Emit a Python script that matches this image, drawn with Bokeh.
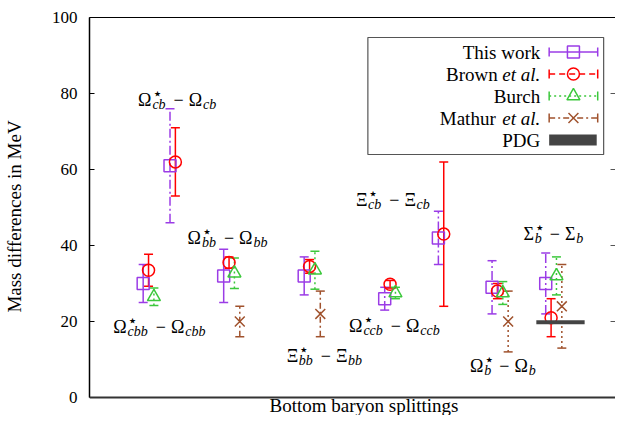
from bokeh.plotting import figure
from bokeh.models import (Range1d, FixedTicker, LinearAxis, Whisker, TeeHead,
                          ColumnDataSource, Label, Span)
from bokeh.embed import file_html
from bokeh.resources import INLINE

FONT = "Times New Roman, Liberation Serif, serif"

# ---------------- data ----------------
splittings = [("Ω", "cbb"), ("Ω", "cb"), ("Ω", "bb"), ("Ξ", "bb"),
              ("Ω", "ccb"), ("Ξ", "cb"), ("Ω", "b"), ("Σ", "b")]
group_x = [2, 3, 5, 8, 11, 13, 15, 17]

this_val = [30, 61, 32, 32, 26, 42, 29, 30]
this_err = [5, 15, 7, 5, 3, 7, 7, 8]

brown_val = [33.5, 62, 35.5, 34.5, 29.8, 43, 28, 21]
brown_err = [4.2, 9, 1.5, 1.8, 1.0, 19, 2, 5]

burch_idx = [0, 2, 3, 4, 6, 7]
burch_val = [26.5, 32.7, 33.5, 27.5, 27.5, 32]
burch_err = [2.3, 4, 5, 1.5, 3, 5]

mathur_idx = [2, 3, 6, 7]
mathur_val = [20, 22, 20, 24]
mathur_err = [4, 6, 8, 11]

pdg_idx = 7
pdg_val = 19.8

y_ticks = [0, 20, 40, 60, 80, 100]

x_title = "Bottom baryon splittings"
y_title = "Mass differences in MeV"

# ---------------- styles ----------------
C_THIS = "#9b3ce6"
C_BROWN = "#ff0000"
C_BURCH = "#3cc83c"
C_MATHUR = "#a0522d"
C_PDG = "#444444"

PXU = 27.09   # px per x unit
PYU = 3.8     # px per y unit
X0, X1 = 0.0, 19.6
Y_AX0, Y1 = 0.0, 100.0
Y0 = -(415 - 397) / PYU   # room under the axis for the title

LX, LY = 4, 5   # label nudges (px)

p = figure(width=615, height=415, output_backend="svg", toolbar_location=None,
           x_range=Range1d(X0, X1), y_range=Range1d(Y0, Y1),
           x_axis_location=None,
           min_border_left=84, min_border_right=0, min_border_top=17,
           min_border_bottom=0)
p.outline_line_color = None
p.grid.visible = False

ya = p.yaxis[0]
ya.ticker = FixedTicker(ticks=y_ticks)
ya.bounds = (Y_AX0, Y1)
ya.major_tick_in = 5
ya.major_tick_out = 0
ya.minor_tick_line_color = None
ya.minor_tick_in = 0
ya.minor_tick_out = 0
ya.major_label_text_font = FONT
ya.major_label_text_font_size = "17px"
ya.major_label_text_color = "black"
ya.major_label_standoff = 12
ya.axis_label = y_title
ya.axis_label_text_font = FONT
ya.axis_label_text_font_size = "19px"
ya.axis_label_text_font_style = "normal"
ya.axis_label_text_color = "black"
ya.axis_label_standoff = 24
ya.axis_line_width = 1.5
ya.axis_line_color = "black"
ya.major_tick_line_color = "black"

ta = LinearAxis(ticker=FixedTicker(ticks=[]), axis_line_color="black", axis_line_width=1.2,
                major_tick_in=0, major_tick_out=0, minor_tick_in=0, minor_tick_out=0,
                major_label_standoff=0)
p.add_layout(ta, "above")

p.add_layout(Span(location=Y_AX0, dimension="width", line_color="#333333", line_width=2))

p.segment(x0=[X1] * len(y_ticks), x1=[X1 - 5 / PXU] * len(y_ticks),
          y0=y_ticks, y1=y_ticks, line_color="#555555", line_width=1)


def errorbars(xs, lo, hi, color, dash, dim="height", cap=9, level="underlay"):
    src = ColumnDataSource(dict(b=xs, lo=lo, hi=hi))
    w = Whisker(source=src, base="b", lower="lo", upper="hi", dimension=dim,
                line_color=color, line_width=1.5, line_dash=dash, level=level,
                upper_head=TeeHead(size=cap, line_color=color, line_width=1.5),
                lower_head=TeeHead(size=cap, line_color=color, line_width=1.5))
    p.add_layout(w)


def series(idx, vals, errs, dx, color, dash, marker, size, alt_idx=(), alt_dash="solid"):
    xs = [group_x[i] + dx for i in idx]
    lo = [v - e for v, e in zip(vals, errs)]
    hi = [v + e for v, e in zip(vals, errs)]
    a = [k for k in range(len(xs)) if idx[k] not in alt_idx]
    b = [k for k in range(len(xs)) if idx[k] in alt_idx]
    if a:
        errorbars([xs[k] for k in a], [lo[k] for k in a], [hi[k] for k in a], color, dash)
    if b:
        errorbars([xs[k] for k in b], [lo[k] for k in b], [hi[k] for k in b], color, alt_dash)
    p.scatter(xs, vals, marker=marker, size=size, fill_color=None,
              line_color=color, line_width=1.5)


all_idx = list(range(len(group_x)))
series(all_idx, this_val, this_err, 0.0, C_THIS, "9 3 2 3", "square", 12, alt_idx=(0, 2, 3))
series(all_idx, brown_val, brown_err, 0.2, C_BROWN, "solid", "circle", 12)
series(burch_idx, burch_val, burch_err, 0.4, C_BURCH, "2 3", "triangle", 13)
series(mathur_idx, mathur_val, mathur_err, 0.6, C_MATHUR, "6 3 2 3", "x", 14,
       alt_idx=(6, 7), alt_dash="2 3")

pdg_x = group_x[pdg_idx] + 0.55
p.segment(x0=[pdg_x - 0.9], y0=[pdg_val], x1=[pdg_x + 0.9], y1=[pdg_val],
          line_color=C_PDG, line_width=4, line_cap="butt")

# ---------------- annotation placement helpers (reference pixels) ----------------
FL, FB = 92.0, 397.0


def dx(px):
    return X0 + (px - FL) / PXU


def dy(py):
    return Y_AX0 + (FB - py) / PYU


# ---------------- math labels ----------------
W_BASE = {"Ω": 13.8, "Ξ": 11.6, "Σ": 10.8}
W_SUB = {"c": 6.2, "b": 7.0}
label_pos = [(112, 331), (137, 104), (187, 242), (287, 360),
             (350, 330), (357, 204), (472, 370), (526, 238)]


def lab(xd, yd, text, off, yoff, size, style="normal", baseline="alphabetic", font=FONT):
    p.add_layout(Label(x=xd, y=yd, x_offset=off + LX, y_offset=yoff, text=text,
                       text_font=font, text_font_size=size, text_font_style=style,
                       text_align="left", text_baseline=baseline, text_color="black"))


for (sym, sub), (lx, ly) in zip(splittings, label_pos):
    xd, yd = dx(lx), dy(ly)
    wb = W_BASE[sym]
    ws = sum(W_SUB[c] for c in sub)
    lab(xd, yd, sym, 0, LY, "18px")
    lab(xd, yd, "⋆", wb + 0.5, 6 + LY, "16px", baseline="middle", font="DejaVu Sans")
    lab(xd, yd, sub, wb + 0.5, -5 + LY, "14px", style="italic")
    m = wb + 0.5 + ws + 8
    lab(xd, yd, "−", m, LY, "18px")
    s2 = m + 10.2 + 5
    lab(xd, yd, sym, s2, LY, "18px")
    lab(xd, yd, sub, s2 + wb + 0.5, -5 + LY, "14px", style="italic")

# ---------------- legend ----------------
p.quad(left=[dx(373)], right=[dx(611)], top=[dy(37)], bottom=[dy(154)],
       fill_color="white", line_color="#555555", line_width=1.2)

rows = [51.5, 73.5, 95.5, 117.5, 139.5]
leg_styles = [(C_THIS, "solid", "square", 12),
              (C_BROWN, "6 4", "circle", 12),
              (C_BURCH, "2 3", "triangle", 13),
              (C_MATHUR, "6 3 2 3", "x", 14)]
for r, (col, dash, mk, sz) in zip(rows[:4], leg_styles):
    errorbars([dy(r)], [dx(556)], [dx(605)], col, dash, dim="width", level="annotation")
    p.scatter([dx(580.5)], [dy(r)], marker=mk, size=sz, fill_color=None,
              line_color=col, line_width=1.5)
p.quad(left=[dx(556)], right=[dx(604)], top=[dy(134)], bottom=[dy(145)],
       fill_color=C_PDG, line_color=None)


def leg_text(px, py, text, style="normal"):
    p.add_layout(Label(x=dx(px), y=dy(py), x_offset=LX, text=text, text_font=FONT,
                       text_font_size="19px", text_font_style=style,
                       text_align="right", text_baseline="middle", text_color="black"))


leg_text(543, rows[0], "This work")
leg_text(543, rows[1], "et al.", "italic")
leg_text(500, rows[1], "Brown")
leg_text(543, rows[2], "Burch")
leg_text(543, rows[3], "et al.", "italic")
leg_text(498, rows[3], "Mathur")
leg_text(543, rows[4], "PDG")

p.add_layout(Label(x=dx(365), y=dy(411), x_offset=LX, y_offset=6, text=x_title,
                   text_font=FONT, text_font_size="19px", text_align="center",
                   text_baseline="alphabetic", text_color="black"))

open("out.html", "w").write(file_html(p, INLINE))
